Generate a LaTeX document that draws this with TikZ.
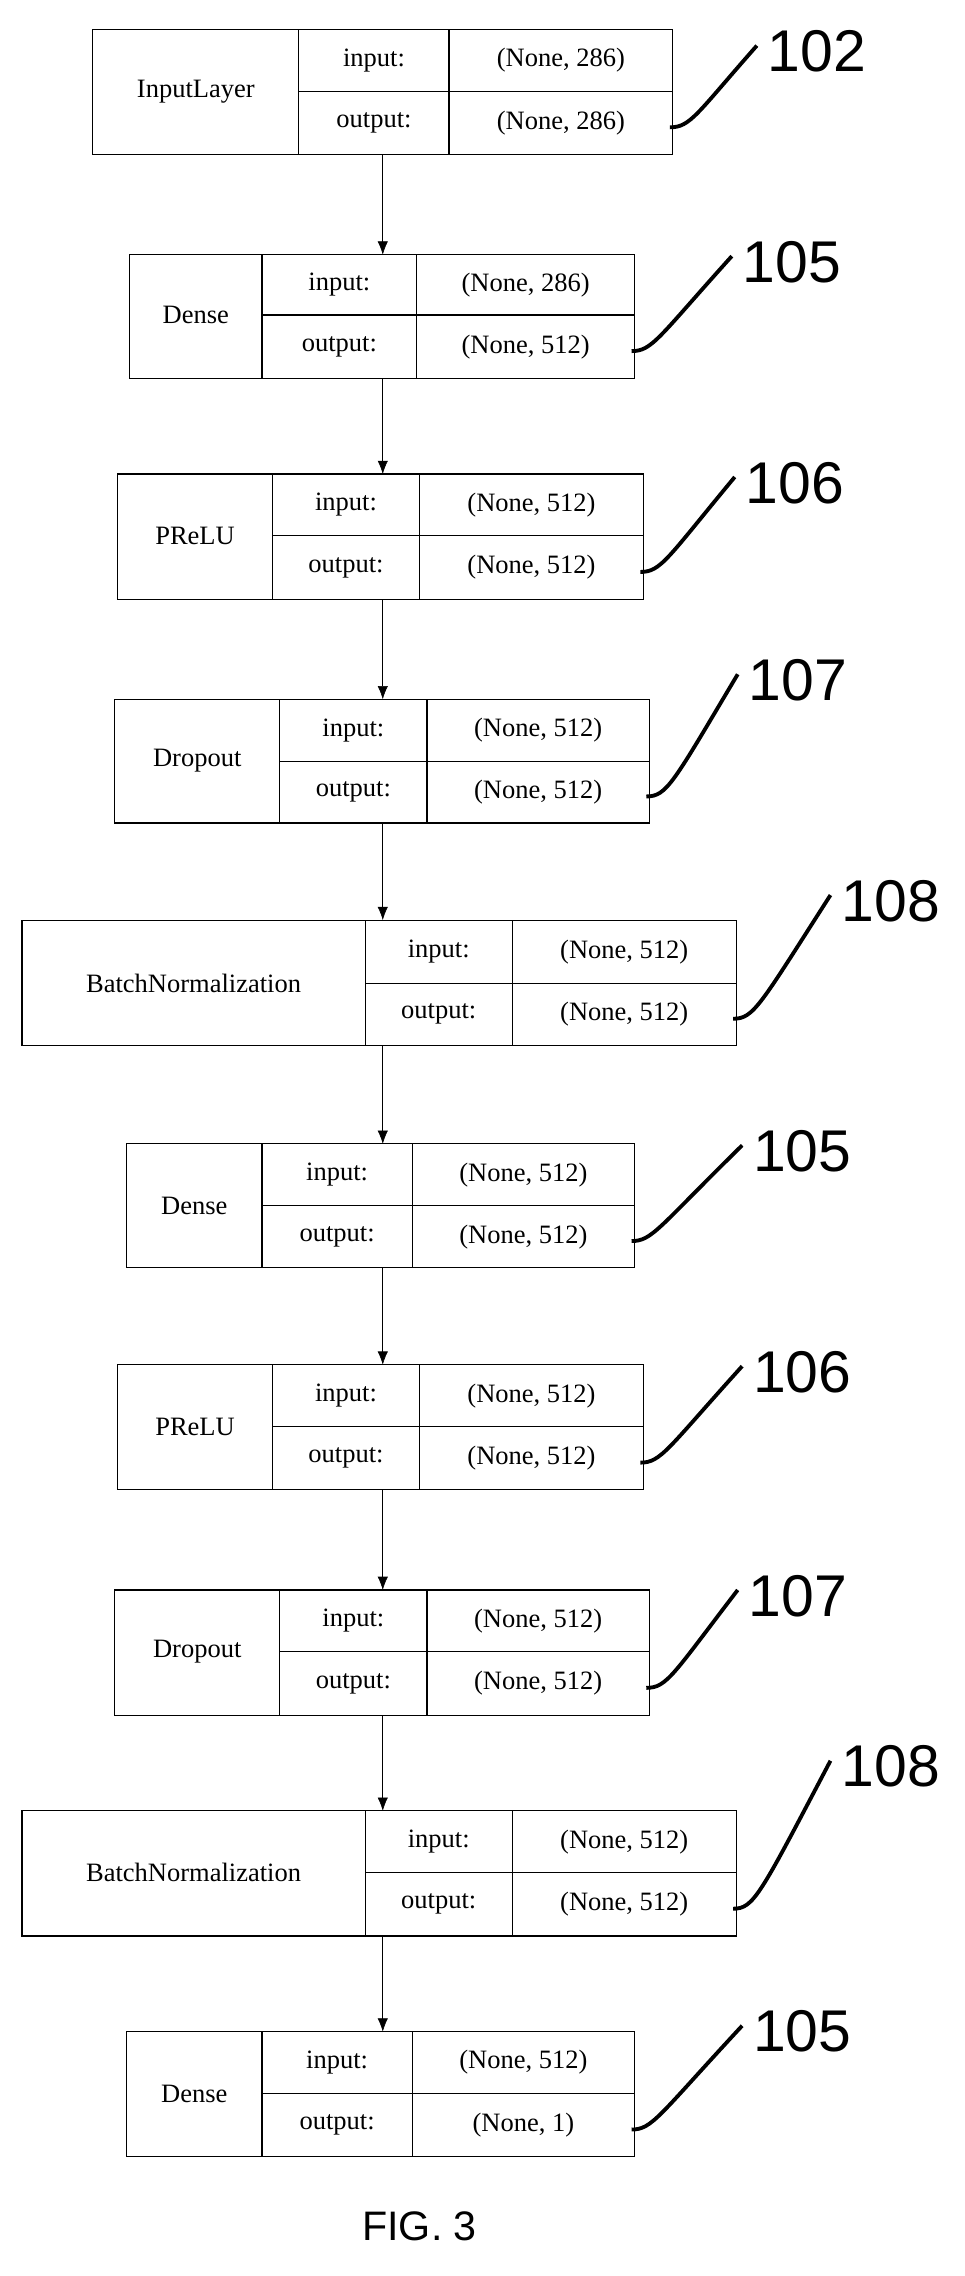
\documentclass[tikz,border=0pt]{standalone}
\usepackage{fontspec}
\usetikzlibrary{arrows.meta}
\setmainfont{Liberation Serif}
\newfontfamily\labelfont{Liberation Sans}

\begin{document}
\begin{tikzpicture}[x=1pt,y=-1pt,
    cell/.style={font=\fontsize{18}{20}\selectfont},
    refnum/.style={font=\labelfont\fontsize{40}{42}\selectfont},
    leader/.style={line width=2.6pt},
    flow/.style={-{Latex[length=9pt,width=7pt]}}]
    \useasboundingbox (0,0) rectangle (655,1546);
    % \draw[help lines] (0,0) grid (655,1546);
    \foreach \i/\name/\xa/\xb/\xc/\xd/\yt/\ym/\yb/\in/\out/\num/\nx/\ny in {
        1/InputLayer/63/203/305/457/20/62/105/286/286/102/555/35,
        2/Dense/88/178/283/431/173/214/257/286/512/105/538/178,
        3/PReLU/80/185/285/437/322/364/407/512/512/106/540/328,
        4/Dropout/78/190/290/441/475/517/559/512/512/107/542/462,
        5/BatchNormalization/15/248/348/500/625/668/710/512/512/108/605/612,
        6/Dense/86/178/280/431/777/819/861/512/512/105/545/782,
        7/PReLU/80/185/285/437/927/969/1012/512/512/106/545/932,
        8/Dropout/78/190/290/441/1080/1122/1165/512/512/107/542/1084,
        9/BatchNormalization/15/248/348/500/1230/1272/1315/512/512/108/605/1200,
        10/Dense/86/178/280/431/1380/1422/1465/512/1/105/545/1380} {
        \draw[line width=0.8pt] (\xa,\yt) rectangle (\xd,\yb);
        \draw[line width=0.8pt] (\xb,\yt) -- (\xb,\yb) (\xc,\yt) -- (\xc,\yb) (\xb,\ym) -- (\xd,\ym);
        \node[cell] (name\i) at ({(\xa+\xb)/2},\ym) {\name};
        \node[cell] (inl\i) at ({(\xb+\xc)/2},{(\yt+\ym)/2}) {input:};
        \node[cell] (outl\i) at ({(\xb+\xc)/2},{(\ym+\yb)/2}) {output:};
        \node[cell] (inv\i) at ({(\xc+\xd)/2},{(\yt+\ym)/2}) {(None, \in)};
        \node[cell] (outv\i) at ({(\xc+\xd)/2},{(\ym+\yb)/2}) {(None, \out)};
        \coordinate (top\i) at (260,\yt);
        \coordinate (bot\i) at (260,\yb);
        \coordinate (tip\i) at ({\xd-2},{(\ym+\yb)/2+3});
        \node[refnum] (ref\i) at (\nx,\ny) {\num};
        \draw[leader] (tip\i) .. controls ({\xd+12},{(\ym+\yb)/2+3}) and ({\xd+16},{(\ym+\yb)/2-6}) .. ([xshift=-4pt,yshift=4pt]ref\i.west);
    }
    \foreach \a/\b in {1/2,2/3,3/4,4/5,5/6,6/7,7/8,8/9,9/10}
        \draw[flow] (bot\a) -- (top\b);
    \node[font=\labelfont\fontsize{28}{30}\selectfont] (fig) at (285,1512) {FIG. 3};
\end{tikzpicture}
\end{document}
